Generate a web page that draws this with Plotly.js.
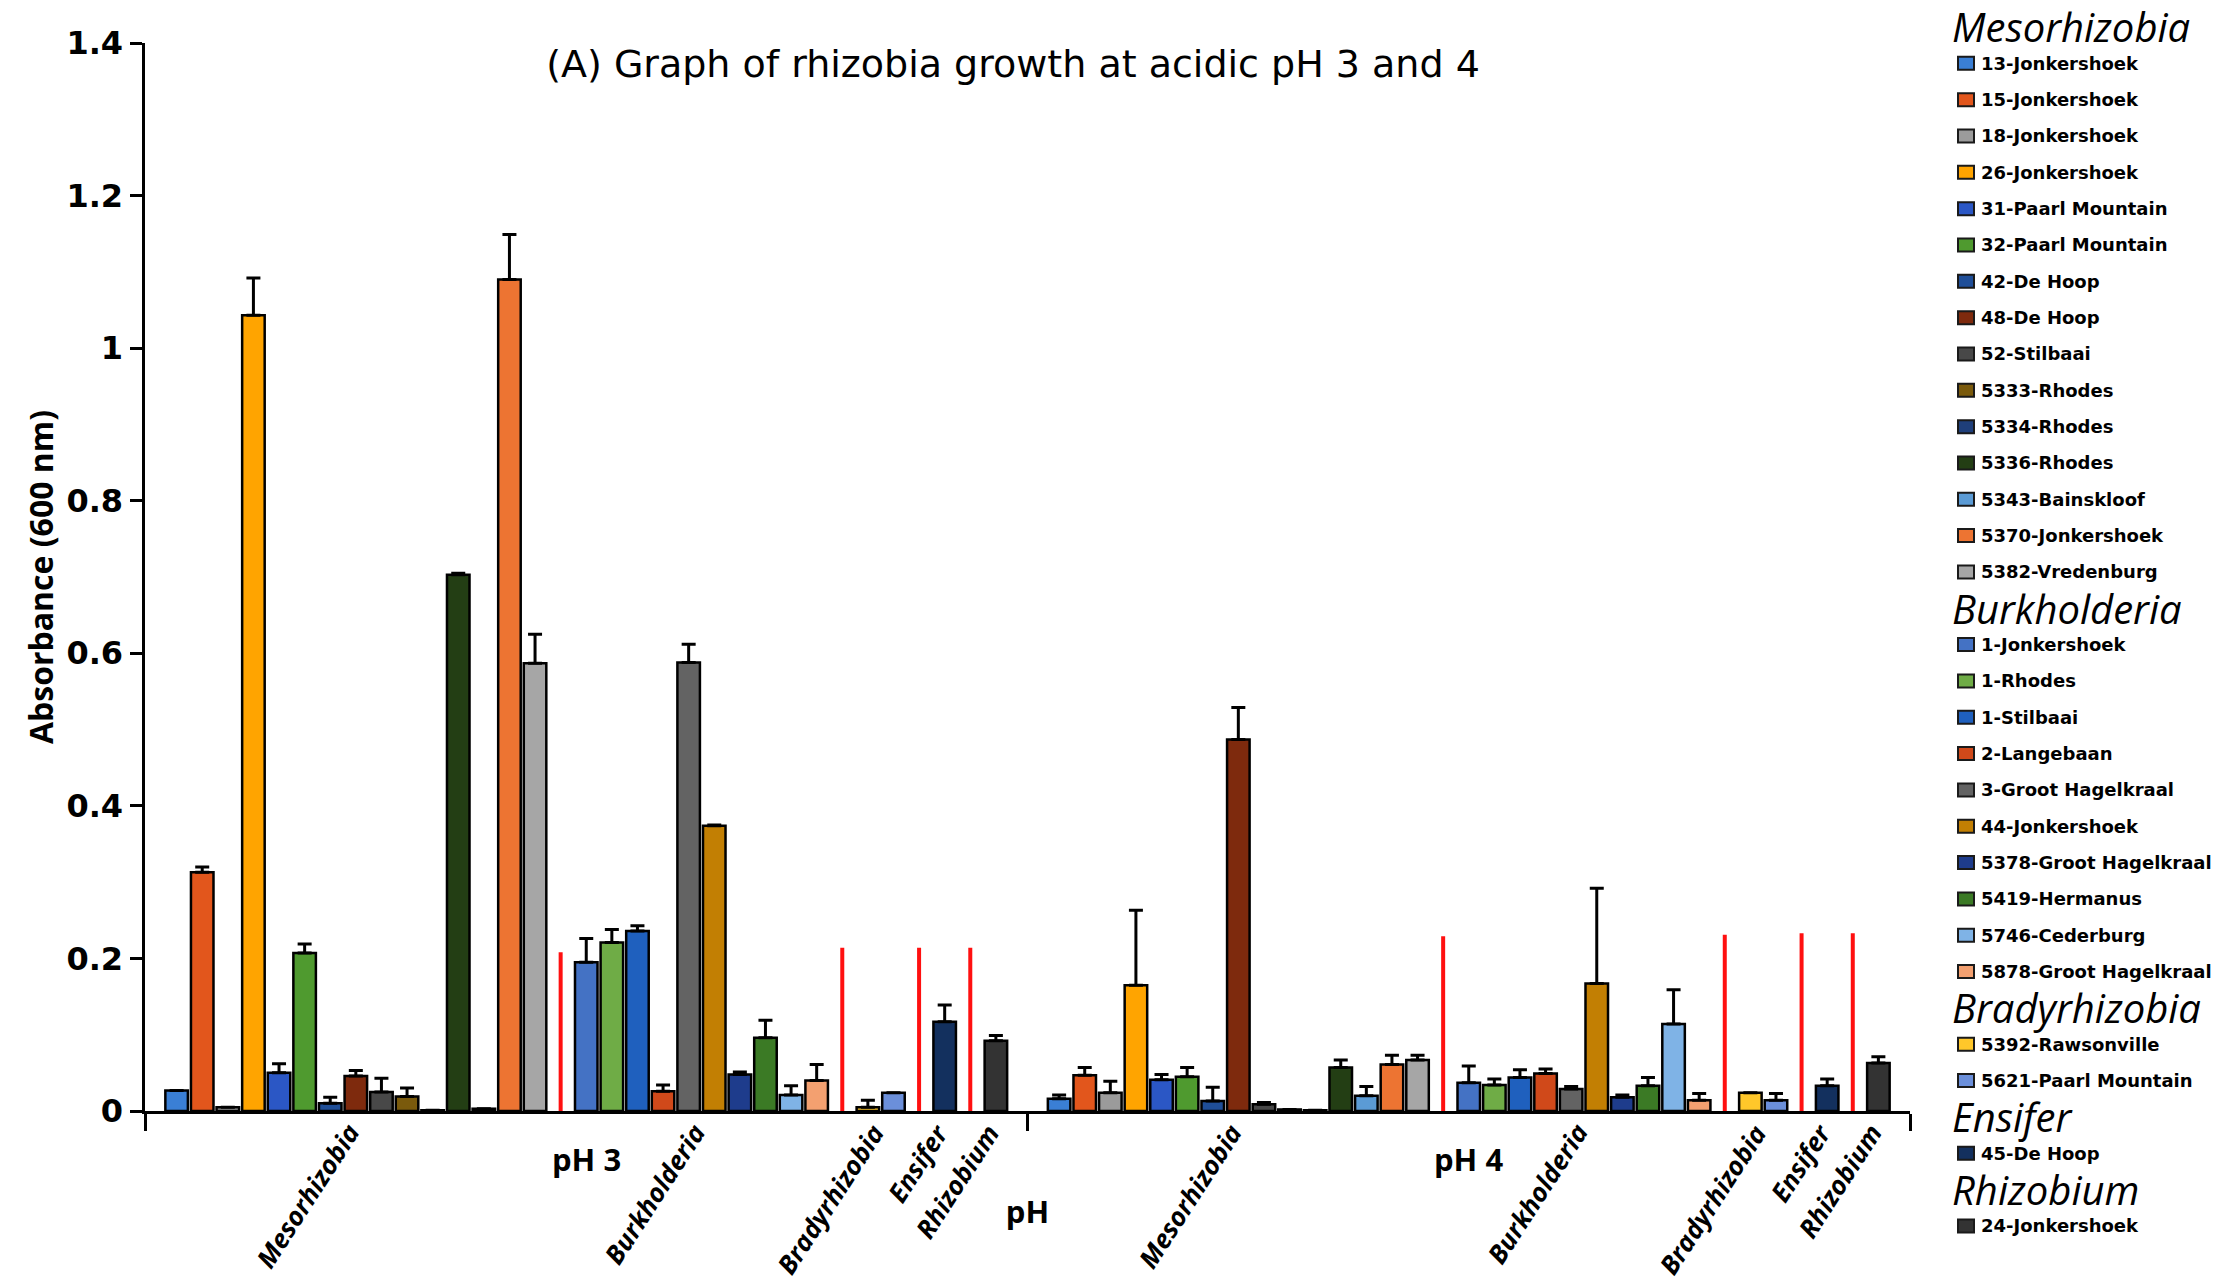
<!DOCTYPE html>
<html><head><meta charset="utf-8">
<script src="https://cdn.plot.ly/plotly-3.0.1.min.js"></script>
<style>html,body{margin:0;padding:0;background:#fff}#chart{width:2221px;height:1287px}</style>
</head><body><div id="chart"></div>
<script>
// ---------------- DATA ----------------
const phLevels = ['pH 3', 'pH 4'];
const genera = ['Mesorhizobia', 'Burkholderia', 'Bradyrhizobia', 'Ensifer', 'Rhizobium'];

const mesoStrains = ['13-Jonkershoek','15-Jonkershoek','18-Jonkershoek','26-Jonkershoek','31-Paarl Mountain','32-Paarl Mountain','42-De Hoop','48-De Hoop','52-Stilbaai','5333-Rhodes','5334-Rhodes','5336-Rhodes','5343-Bainskloof','5370-Jonkershoek','5382-Vredenburg'];
const burkStrains = ['1-Jonkershoek','1-Rhodes','1-Stilbaai','2-Langebaan','3-Groot Hagelkraal','44-Jonkershoek','5378-Groot Hagelkraal','5419-Hermanus','5746-Cederburg','5878-Groot Hagelkraal'];
const bradyStrains = ['5392-Rawsonville','5621-Paarl Mountain'];
const ensiferStrains = ['45-De Hoop'];
const rhizobiumStrains = ['24-Jonkershoek'];

const mesoPH3    = [0.027,0.313,0.005,1.043,0.050,0.207,0.010,0.046,0.025,0.019,0.001,0.703,0.003,1.090,0.587];
const mesoPH3Err = [0.000,0.007,0.000,0.049,0.012,0.012,0.008,0.007,0.018,0.011,0.000,0.002,0.000,0.059,0.038];
const mesoPH4    = [0.016,0.047,0.024,0.165,0.041,0.045,0.013,0.487,0.009,0.002,0.001,0.057,0.020,0.061,0.067];
const mesoPH4Err = [0.005,0.010,0.015,0.098,0.007,0.012,0.018,0.042,0.002,0.000,0.000,0.010,0.012,0.012,0.006];

const burkPH3    = [0.195,0.221,0.236,0.026,0.588,0.374,0.048,0.096,0.021,0.040];
const burkPH3Err = [0.031,0.017,0.007,0.008,0.024,0.001,0.003,0.023,0.012,0.021];
const burkPH4    = [0.037,0.034,0.044,0.049,0.029,0.167,0.018,0.033,0.114,0.014];
const burkPH4Err = [0.022,0.008,0.010,0.006,0.003,0.125,0.003,0.011,0.045,0.009];

const bradyPH3    = [0.005,0.024];
const bradyPH3Err = [0.009,0.000];
const bradyPH4    = [0.024,0.014];
const bradyPH4Err = [0.000,0.009];

const ensiferPH3    = [0.117];
const ensiferPH3Err = [0.022];
const ensiferPH4    = [0.033];
const ensiferPH4Err = [0.009];

const rhizobiumPH3    = [0.092];
const rhizobiumPH3Err = [0.007];
const rhizobiumPH4    = [0.063];
const rhizobiumPH4Err = [0.008];

// red separator lines between genera (height in absorbance units)
const separatorPH3 = [0.208,0.214,0.214,0.214];
const separatorPH4 = [0.229,0.231,0.233,0.233];

const yTickVals = [0,0.2,0.4,0.6,0.8,1,1.2,1.4];
const yTickText = ['0','0.2','0.4','0.6','0.8','1','1.2','1.4'];

// ---------------- STYLES ----------------
const mesoColors = ['#3a7fd5','#e2561c','#9b9b9b','#ffa400','#2b57c5','#4f9a2f','#1f4e98','#7e2a0d','#484848','#7a5a0c','#1f3f7a','#233e14','#5b9bd5','#ed7432','#a6a6a6'];
const burkColors = ['#4472c4','#6fac46','#1f60be','#d0491a','#636363','#c27f03','#1e3c8c','#3b7a25','#7fb3e6','#f3a070'];
const bradyColors = ['#ffc72a','#6b8fda'];
const ensiferColors = ['#13305e'];
const rhizobiumColors = ['#333333'];

const groups = [
  {name: genera[0], strains: mesoStrains, colors: mesoColors, v: [mesoPH3, mesoPH4], e: [mesoPH3Err, mesoPH4Err]},
  {name: genera[1], strains: burkStrains, colors: burkColors, v: [burkPH3, burkPH4], e: [burkPH3Err, burkPH4Err]},
  {name: genera[2], strains: bradyStrains, colors: bradyColors, v: [bradyPH3, bradyPH4], e: [bradyPH3Err, bradyPH4Err]},
  {name: genera[3], strains: ensiferStrains, colors: ensiferColors, v: [ensiferPH3, ensiferPH4], e: [ensiferPH3Err, ensiferPH4Err]},
  {name: genera[4], strains: rhizobiumStrains, colors: rhizobiumColors, v: [rhizobiumPH3, rhizobiumPH4], e: [rhizobiumPH3Err, rhizobiumPH4Err]}
];

// slot layout: each strain one slot, each separator one slot
let slot = 0;
const sepSlots = [];
groups.forEach((g, gi) => {
  g.start = slot;
  slot += g.strains.length;
  g.center = (g.start + slot - 1) / 2;
  if (gi < groups.length - 1) { sepSlots.push(slot); slot++; }
});
const nSlots = slot;
const blockW = nSlots + 1.47;          // width of one pH block in slot units
const blockCenter = (nSlots - 1) / 2;
const xMin = blockCenter - blockW / 2;
const xMax = xMin + blockW * phLevels.length;
const boundaries = [0, 1, 2].map(k => xMin + k * blockW);

// ---------------- TRACES ----------------
const traces = [];
groups.forEach(g => {
  g.strains.forEach((s, i) => {
    const xs = phLevels.map((p, k) => g.start + i + k * blockW);
    traces.push({
      type: 'bar', name: s, x: xs,
      y: [g.v[0][i], g.v[1][i]],
      width: 0.88,
      marker: {color: g.colors[i], line: {color: '#000', width: 2.5}},
      error_y: {type: 'data', symmetric: false, array: [g.e[0][i], g.e[1][i]], arrayminus: [0, 0],
                color: '#000', thickness: 3, width: 7},
      showlegend: false, hoverinfo: 'x+y+name'
    });
  });
});
const sepX = [], sepY = [];
[separatorPH3, separatorPH4].forEach((hs, k) => {
  hs.forEach((h, j) => {
    const x = sepSlots[j] + k * blockW;
    sepX.push(x, x, null); sepY.push(0, h, null);
  });
});
traces.push({type: 'scatter', mode: 'lines', x: sepX, y: sepY, line: {color: '#ff1010', width: 4},
             showlegend: false, hoverinfo: 'skip'});

// ---------------- LAYOUT ----------------
const W = 2221, H = 1287;
const M = {l: 145, r: 311, t: 43, b: 176};
const plotW = W - M.l - M.r, plotH = H - M.t - M.b;
const toPX = px => (px - M.l) / plotW;
const toPY = py => (H - M.b - py) / plotH;

const annotations = [];
// genus labels under the axis
phLevels.forEach((p, k) => {
  groups.forEach(g => {
    annotations.push({
      x: g.center + k * blockW, y: 0, xref: 'x', yref: 'y',
      text: '<b><i>' + g.name + '</i></b>', showarrow: false,
      xanchor: 'right', yanchor: 'top', textangle: -57, xshift: 14, yshift: -3,
      font: {family: 'Open Sans, DejaVu Sans, sans-serif', size: 26, color: '#000'}
    });
  });
  annotations.push({
    x: blockCenter + k * blockW, y: 0, xref: 'x', yref: 'y',
    text: '<b>' + p + '</b>', showarrow: false, xanchor: 'center', yanchor: 'middle', yshift: -48,
    font: {family: 'Open Sans, DejaVu Sans, sans-serif', size: 31, color: '#000'}
  });
});

// custom legend on the right
const shapes = [];
const rowPitch = 36.33, row0 = 27;
let row = 0;
groups.forEach(g => {
  annotations.push({
    x: toPX(1950), y: toPY(row0 + row * rowPitch), xref: 'paper', yref: 'paper',
    text: '<i>' + g.name + '</i>', showarrow: false, xanchor: 'left', yanchor: 'middle',
    font: {family: 'Open Sans, DejaVu Sans, sans-serif', size: 40, color: '#000'}
  });
  row++;
  g.strains.forEach((s, i) => {
    const cy = row0 + row * rowPitch;
    shapes.push({type: 'rect', xref: 'paper', yref: 'paper',
      x0: toPX(1958), x1: toPX(1974), y0: toPY(cy + 6.5), y1: toPY(cy - 6.5),
      fillcolor: g.colors[i], line: {color: '#1a1a1a', width: 2}});
    annotations.push({
      x: toPX(1979), y: toPY(cy), xref: 'paper', yref: 'paper',
      text: '<b>' + s + '</b>', showarrow: false, xanchor: 'left', yanchor: 'middle',
      font: {family: 'DejaVu Sans, sans-serif', size: 18, color: '#000'}
    });
    row++;
  });
});

const layout = {
  width: W, height: H, margin: M,
  paper_bgcolor: '#fff', plot_bgcolor: '#fff',
  barmode: 'overlay', showlegend: false,
  title: {text: '(A) Graph of rhizobia growth at acidic pH 3 and 4', xref: 'container', yref: 'container',
          x: 1013 / W, y: 1 - 64 / H, xanchor: 'center', yanchor: 'middle',
          font: {family: 'DejaVu Sans, sans-serif', size: 38, color: '#000'}},
  xaxis: {range: [xMin, xMax], showgrid: false, zeroline: false, showline: true, linecolor: '#000', linewidth: 3,
          ticks: 'outside', tickvals: boundaries, ticktext: ['', '', ''], ticklen: 17, tickwidth: 3, tickcolor: '#000',
          showticklabels: false, fixedrange: true,
          title: {text: '<b>pH</b>', standoff: 72, font: {family: 'Open Sans, DejaVu Sans, sans-serif', size: 31, color: '#000'}}},
  yaxis: {range: [0, 1.4], showgrid: false, zeroline: false, showline: true, linecolor: '#000', linewidth: 3.5,
          ticks: 'outside', tickvals: yTickVals, ticktext: yTickText, ticklen: 12, tickwidth: 3, tickcolor: '#000',
          tickfont: {family: 'DejaVu Sans, sans-serif', size: 32, color: '#000', weight: 700},
          fixedrange: true,
          title: {text: '<b>Absorbance (600 nm)</b>', standoff: 4, font: {family: 'Open Sans, DejaVu Sans, sans-serif', size: 32, color: '#000'}}},
  annotations: annotations, shapes: shapes
};

Plotly.newPlot('chart', traces, layout, {displayModeBar: false, staticPlot: true});
</script>
</body></html>
